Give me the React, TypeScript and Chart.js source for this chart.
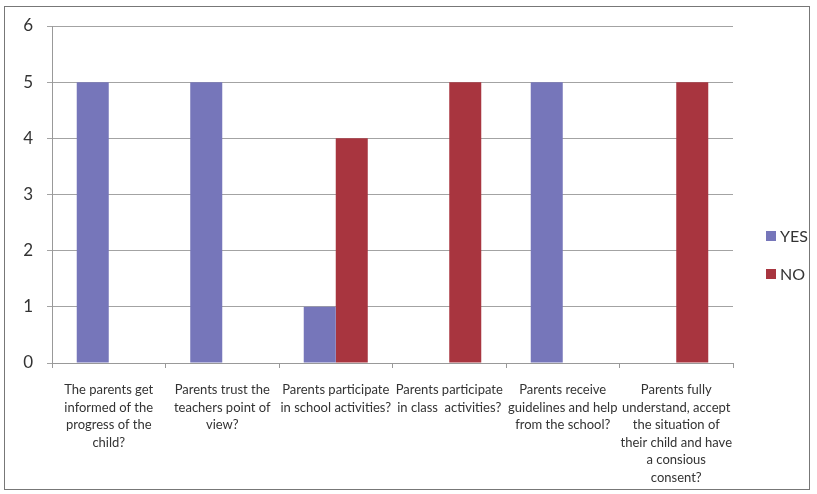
import React, { useEffect, useRef } from "react";
import { Chart, registerables } from "chart.js";

Chart.register(...registerables);

const categories: string[][] = [
  ["The parents get", "informed of the", "progress of the", "child?"],
  ["Parents trust the", "teachers point of", "view?"],
  ["Parents participate", "in school activities?"],
  ["Parents participate", "in class  activities?"],
  ["Parents receive", "guidelines and help", "from the school?"],
  ["Parents fully", "understand, accept", "the situation of", "their child and have", "a consious", "consent?"],
];
const yesValues = [5, 5, 1, 0, 5, 0];
const noValues = [0, 0, 4, 5, 0, 5];
const seriesNames = ["YES", "NO"];
const seriesColors = ["#7676BA", "#A8353F"];

const legendPlugin = {
  id: "sideLegend",
  afterDraw(chart: any) {
    const ctx = chart.ctx;
    ctx.save();
    const x = 766;
    const y0 = 236;
    const gap = 38;
    chart.data.datasets.forEach((ds: any, i: number) => {
      const cy = y0 + i * gap;
      ctx.fillStyle = ds.backgroundColor;
      ctx.fillRect(x, cy - 5, 10, 10);
      ctx.fillStyle = "#333";
      ctx.font = "16px Lato";
      ctx.textBaseline = "middle";
      ctx.textAlign = "left";
      ctx.fillText(ds.label, x + 14, cy + 1);
    });
    ctx.restore();
  },
};

export default function App() {
  const ref = useRef<HTMLCanvasElement>(null);
  useEffect(() => {
    if (!ref.current) return;
    const chart = new Chart(ref.current, {
      type: "bar",
      data: {
        labels: categories,
        datasets: [
          { label: seriesNames[0], data: yesValues, backgroundColor: seriesColors[0] },
          { label: seriesNames[1], data: noValues, backgroundColor: seriesColors[1] },
        ],
      },
      options: {
        animation: false,
        responsive: false,
        maintainAspectRatio: false,
        layout: { padding: { left: 0, top: 26, right: 84, bottom: 0 } },
        datasets: { bar: { categoryPercentage: 0.564, barPercentage: 1 } },
        plugins: { legend: { display: false }, tooltip: { enabled: false } },
        scales: {
          x: {
            offset: true,
            grid: { drawOnChartArea: false, tickLength: 5, color: "#999", offset: true },
            border: { color: "#999" },
            ticks: {
              color: "#333",
              font: { family: "Lato", size: 13, lineHeight: 1.35 },
              maxRotation: 0,
              autoSkip: false,
              padding: 13,
            },
            afterFit(s: any) {
              s.height = 131;
            },
          },
          y: {
            min: 0,
            max: 6,
            grid: { color: "#a3a3a3", tickLength: 5 },
            border: { color: "#999" },
            ticks: { stepSize: 1, color: "#333", font: { family: "Lato", size: 17 }, padding: 14 },
            afterFit(s: any) {
              s.width = 52;
            },
          },
        },
      },
      plugins: [legendPlugin],
    });
    return () => chart.destroy();
  }, []);
  return (
    <div style={{ position: "absolute", left: 0, top: 0, width: 817, height: 494, background: "#fff" }}>
      <canvas ref={ref} width={817} height={494} style={{ position: "absolute", left: 0, top: 0 }} />
      <div
        style={{
          position: "absolute",
          left: 4,
          top: 6,
          width: 804,
          height: 482,
          border: "1px solid #777",
          pointerEvents: "none",
        }}
      />
    </div>
  );
}
